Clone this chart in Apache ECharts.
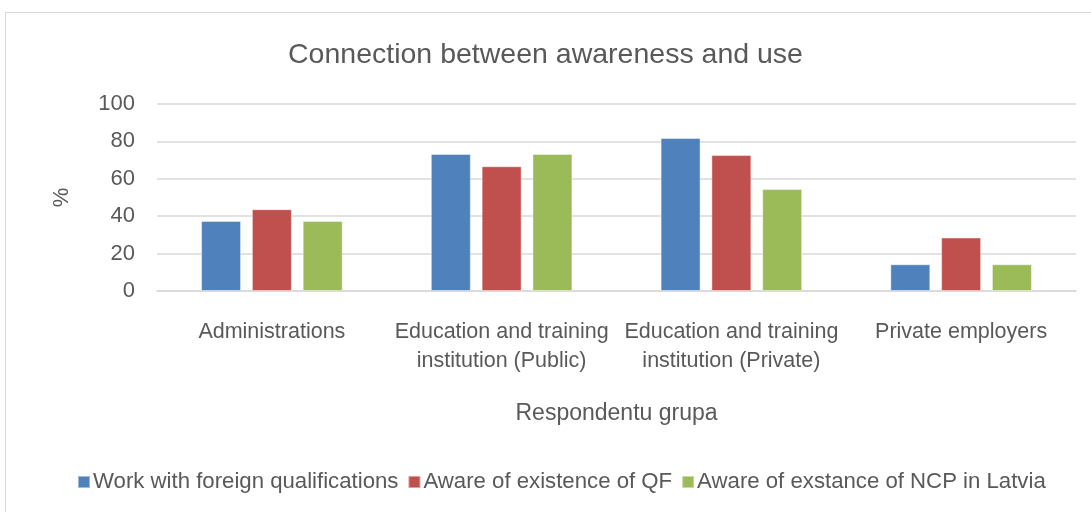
<!DOCTYPE html>
<html>
<head>
<meta charset="utf-8">
<script src="https://cdn.jsdelivr.net/npm/echarts@6/dist/echarts.min.js"></script>
<style>
  html, body { margin: 0; padding: 0; background: #fff; }
  #frame { position: absolute; left: 5px; top: 12px; width: 1100px; height: 520px; border: 1px solid #d9d9d9; box-sizing: border-box; }
  #chart { width: 1091px; height: 512px; }
</style>
</head>
<body>
<div id="frame"></div>
<div id="chart"></div>
<script>
const categories = [
  'Administrations',
  'Education and training\ninstitution (Public)',
  'Education and training\ninstitution (Private)',
  'Private employers'
];
const seriesNames = [
  'Work with foreign qualifications',
  'Aware of existence of QF',
  'Aware of exstance of NCP in Latvia'
];
const workWithForeign = [37.5, 73.3, 81.8, 14.3];
const awareOfQF = [43.75, 66.7, 72.7, 28.6];
const awareOfNCP = [37.5, 73.3, 54.5, 14.3];
const yTicks = { min: 0, max: 100, interval: 20 };

const COLORS = ['#4f81bd', '#c0504d', '#9bbb59'];
const FONT = 'Liberation Sans, sans-serif';

const chart = echarts.init(document.getElementById('chart'));
const values = [workWithForeign, awareOfQF, awareOfNCP];

chart.setOption({
  animation: false,
  color: COLORS,
  textStyle: { fontFamily: FONT, color: '#595959' },
  title: {
    text: 'Connection between awareness and use',
    left: 'center',
    top: 36,
    textStyle: { fontFamily: FONT, fontSize: 28.5, fontWeight: 'normal', color: '#595959' }
  },
  grid: { left: 157, right: 15, top: 104, bottom: 221 },
  legend: {
    bottom: 14,
    left: 72,
    itemWidth: 12,
    itemHeight: 12,
    itemGap: 9,
    icon: 'rect',
    textStyle: { fontFamily: FONT, fontSize: 22.2, color: '#595959', padding: [0, 0, 0, -2] },
    data: seriesNames
  },
  xAxis: {
    type: 'category',
    data: categories,
    name: 'Respondentu grupa',
    nameLocation: 'middle',
    nameGap: 111,
    nameTextStyle: { fontFamily: FONT, fontSize: 23, color: '#595959' },
    axisLine: { lineStyle: { color: '#d9d9d9', width: 1.5 } },
    axisTick: { show: false },
    axisLabel: { fontFamily: FONT, fontSize: 21.5, color: '#595959', margin: 27, lineHeight: 29, interval: 0 }
  },
  yAxis: {
    type: 'value',
    min: yTicks.min,
    max: yTicks.max,
    interval: yTicks.interval,
    name: '%',
    nameLocation: 'middle',
    nameGap: 84,
    nameRotate: 90,
    nameTextStyle: { fontFamily: FONT, fontSize: 22, color: '#595959' },
    axisLine: { show: false },
    axisTick: { show: false },
    axisLabel: { fontFamily: FONT, fontSize: 22, color: '#595959', margin: 22 },
    splitLine: { lineStyle: { color: '#d9d9d9', width: 1.5 } }
  },
  series: seriesNames.map((name, i) => ({
    name,
    type: 'bar',
    data: values[i],
    barWidth: 40,
    barGap: '27%',
    itemStyle: { borderColor: 'rgba(255,255,255,0.45)', borderWidth: 1 }
  }))
});
</script>
</body>
</html>
